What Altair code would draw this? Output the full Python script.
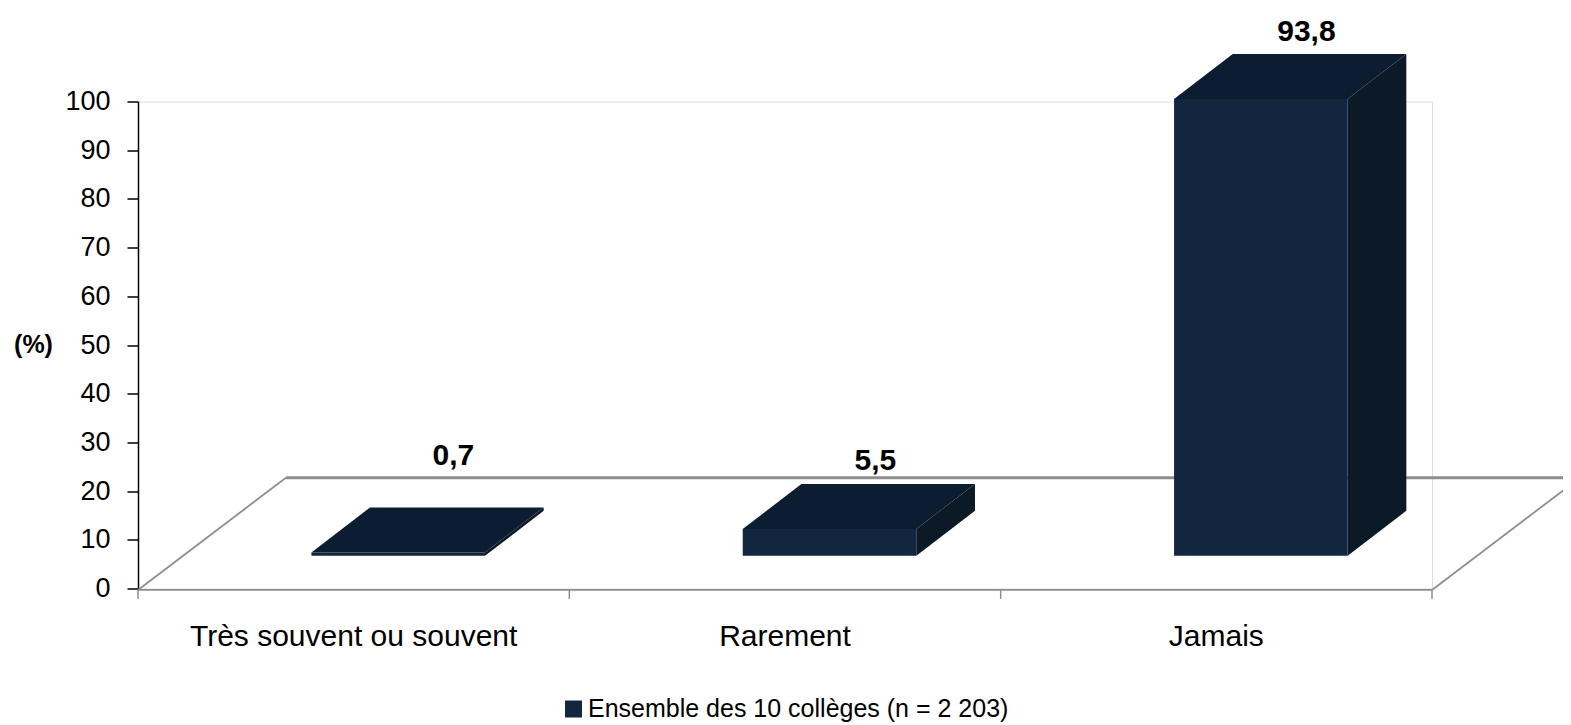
import altair as alt
import pandas as pd

categories = ["Très souvent ou souvent", "Rarement", "Jamais"]
values = [0.7, 5.5, 93.8]
series_name = "Ensemble des 10 collèges (n = 2 203)"
y_ticks = list(range(0, 101, 10))
label_x_frac = [0.731, 0.7095, 0.7088]
label_lift = [8.8, 2.9, 2.7]

FRONT, TOP, SIDE = "#12263F", "#0D1D31", "#0C1A27"
GREY = "#8E8E8E"
FONT = "Liberation Sans"

# projection constants of the pseudo-3D frame (in data units)
BASE = 6.7
DX, DY = 0.136, 9.25
LEFT, W = 0.402, 0.4025
F_Y0, F_Y1, F_DX = -0.3, 22.75, 0.343
N = len(categories)

xs = alt.Scale(domain=[0, N])
ys = alt.Scale(domain=[0, 100])

front, top, side = [], [], []
for i, (c, v) in enumerate(zip(categories, values)):
    x0 = i + LEFT
    Y = BASE + v
    front.append(dict(cat=c, x=x0, x2=x0 + W, y=BASE, y2=Y, series=series_name))
    for x, a, b in [(x0, Y, Y), (x0 + DX, Y, Y + DY), (x0 + W, Y, Y + DY), (x0 + W + DX, Y + DY, Y + DY)]:
        top.append(dict(cat=c, x=x, y=a, y2=b))
    for x, a, b in [(x0 + W, BASE, Y), (x0 + W + DX, BASE + DY, Y + DY)]:
        side.append(dict(cat=c, x=x, y=a, y2=b))

floor_outline = [
    dict(k="front", x=0, y=F_Y0),
    dict(k="front", x=N, y=F_Y0),
    dict(k="left", x=0, y=F_Y0),
    dict(k="left", x=F_DX, y=F_Y1),
    dict(k="right", x=N, y=F_Y0),
    dict(k="right", x=N + F_DX, y=F_Y1),
]
floor_back = [dict(k="back", x=F_DX, y=F_Y1), dict(k="back", x=N + F_DX, y=F_Y1)]
x_ticks = [dict(x=i, y=F_Y0, y2=-2.15) for i in range(N + 1)]
cat_labels = [dict(x=i + 0.5, y=-11.75, t=c) for i, c in enumerate(categories)]
val_labels = [
    dict(x=i + label_x_frac[i], y=BASE + v + DY + label_lift[i], t=str(v).replace(".", ","))
    for i, v in enumerate(values)
]

y_axis = alt.Axis(
    values=y_ticks,
    title="(%)",
    titleAngle=0,
    titleFont=FONT,
    titleFontSize=25,
    titleFontWeight="bold",
    titleColor="#000000",
    titleX=-105,
    titleY=243,
    titleAlign="center",
    titleBaseline="middle",
    labelFont=FONT,
    labelFontSize=27,
    labelColor="#000000",
    labelPadding=17,
    tickSize=11,
    tickColor="#000000",
    tickWidth=1.5,
    domainColor="#000000",
    domainWidth=1.5,
    grid=False,
)

X = alt.X("x:Q", scale=xs, axis=None)
Y_plain = alt.Y("y:Q", scale=ys, axis=y_axis, stack=None)

outline = alt.Chart(pd.DataFrame(floor_outline)).mark_line(color=GREY, strokeWidth=1.8).encode(
    x=X, y=Y_plain, detail="k:N"
)
back = alt.Chart(pd.DataFrame(floor_back)).mark_line(color=GREY, strokeWidth=3).encode(x=X, y=Y_plain, detail="k:N")
ticks = alt.Chart(pd.DataFrame(x_ticks)).mark_rule(color=GREY, strokeWidth=1.5).encode(x=X, y=Y_plain, y2="y2:Q")

front_l = alt.Chart(pd.DataFrame(front)).mark_rect().encode(
    x=X,
    x2="x2:Q",
    y=Y_plain,
    y2="y2:Q",
    color=alt.Color(
        "series:N",
        scale=alt.Scale(domain=[series_name], range=[FRONT]),
        legend=alt.Legend(
            orient="none",
            legendX=423,
            legendY=595,
            title=None,
            symbolType="square",
            symbolSize=289,
            symbolStrokeWidth=0,
            labelFont=FONT,
            labelFontSize=25,
            labelColor="#000000",
            labelLimit=700,
            labelOffset=2,
        ),
    ),
)
side_l = alt.Chart(pd.DataFrame(side)).mark_area(color=SIDE).encode(x=X, y=Y_plain, y2="y2:Q", detail="cat:N")
top_l = alt.Chart(pd.DataFrame(top)).mark_area(color=TOP).encode(x=X, y=Y_plain, y2="y2:Q", detail="cat:N")

cat_text = alt.Chart(pd.DataFrame(cat_labels)).mark_text(
    font=FONT, fontSize=30, color="#000000", align="center", baseline="alphabetic"
).encode(x=X, y=Y_plain, text="t:N")
val_text = alt.Chart(pd.DataFrame(val_labels)).mark_text(
    font=FONT, fontSize=30, fontWeight="bold", color="#000000", align="center", baseline="alphabetic"
).encode(x=X, y=Y_plain, text="t:N")

chart = (
    alt.layer(outline, back, ticks, side_l, front_l, top_l, cat_text, val_text)
    .properties(
        width=1294,
        height=487,
        autosize=alt.AutoSizeParams(type="none"),
        padding={"left": 130, "top": 93.5, "right": 131, "bottom": 134},
    )
    .configure_view(stroke="transparent", strokeWidth=0)
    .configure(background="#ffffff")
)

chart.save("out.html", embed_options={"renderer": "svg", "actions": False})
